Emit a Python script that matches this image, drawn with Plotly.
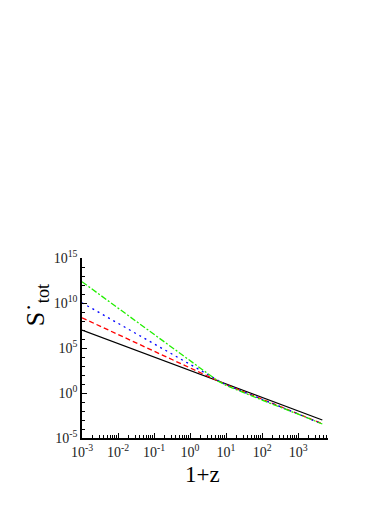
import plotly.graph_objects as go

# 1+z sample points (straight segments in log-log)
one_plus_z = [1e-3, 1e-1, 1.0, 6.0, 10.0, 100.0, 1000.0, 4700.0]

s_black = [1.0e7, 1.0e4, 316.0, 21.0, 10.0, 0.32, 1.0e-2, 1.0e-3]
s_red = [2.3e8, 4.5e4, 600.0, 21.0, 8.5, 0.21, 4.7e-3, 3.8e-4]
s_blue = [1.07e10, 2.7e5, 1.3e3, 21.0, 7.9, 0.20, 4.5e-3, 3.6e-4]
s_green = [2.3e12, 3.4e6, 4.0e3, 21.0, 7.1, 0.16, 4.5e-3, 3.6e-4]

x_ticks = [1e-3, 1e-2, 1e-1, 1, 10, 100, 1000]
x_ticktext = ["10<sup>-3</sup>", "10<sup>-2</sup>", "10<sup>-1</sup>", "10<sup>0</sup>",
              "10<sup>1</sup>", "10<sup>2</sup>", "10<sup>3</sup>"]
y_ticks = [1e-5, 1, 1e5, 1e10, 1e15]
y_ticktext = ["10<sup>-5</sup>", "10<sup>0</sup>", "10<sup>5</sup>", "10<sup>10</sup>", "10<sup>15</sup>"]

serif = "Liberation Serif, Times New Roman, serif"

series = [
    (s_black, "black", "solid"),
    (s_red, "red", "5px,3px"),
    (s_blue, "blue", "2px,4px"),
    (s_green, "#22ee00", "6px,2px,2px,2px"),
]

fig = go.Figure()
for ys, col, dash in series:
    fig.add_trace(go.Scatter(x=one_plus_z, y=ys, mode="lines",
                             line=dict(color=col, width=1.3, dash=dash),
                             showlegend=False))

fig.update_xaxes(
    type="log", range=[-3, 3.83],
    tickvals=x_ticks, ticktext=x_ticktext,
    showgrid=False, zeroline=False,
    showline=True, linecolor="black", linewidth=1.5,
    ticks="inside", ticklen=5, tickcolor="black",
    minor=dict(ticks="inside", ticklen=3, dtick="D1", tickcolor="black", showgrid=False),
    tickfont=dict(family=serif, size=14, color="#222"),
)
fig.update_yaxes(
    type="log", range=[-5, 15],
    tickvals=y_ticks, ticktext=y_ticktext,
    showgrid=False, zeroline=False,
    showline=True, linecolor="black", linewidth=1.5,
    ticks="inside", ticklen=5, tickcolor="black",
    minor=dict(ticks="inside", ticklen=3, dtick=1, tickcolor="black", showgrid=False),
    tickfont=dict(family=serif, size=14, color="#222"),
)

fig.add_annotation(text="1+z", xref="paper", yref="paper", x=0.49, y=-0.2,
                   xanchor="center", yanchor="middle",
                   showarrow=False, font=dict(family=serif, size=23, color="black"))
fig.add_annotation(text="S˙<sub>tot</sub>", xref="paper", yref="paper", x=-0.185, y=0.74,
                   xanchor="center", yanchor="middle",
                   textangle=-90, showarrow=False,
                   font=dict(family=serif, size=26, color="black"))

fig.update_layout(
    width=383, height=498,
    margin=dict(l=74, r=63, t=250, b=68),
    plot_bgcolor="white", paper_bgcolor="white",
)

fig.write_html("out.html")
